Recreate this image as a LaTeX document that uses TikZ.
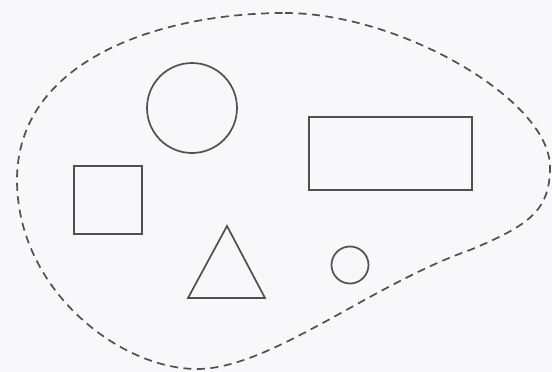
\documentclass[tikz,border=0pt]{standalone}
\usetikzlibrary{calc}
\definecolor{bg}{HTML}{F8F7F9}
\definecolor{ln}{HTML}{505050}
\begin{document}
\begin{tikzpicture}[x=1pt,y=-1pt,
  outl/.style={draw=ln,line width=1.7pt},
  region/.style={draw=ln,line width=1.7pt,dash pattern=on 8pt off 5.5pt}]
\fill[bg] (0,0) rectangle (552,372);
\useasboundingbox (0,0) rectangle (552,372);
% region
\coordinate (top) at (285,13);
\coordinate (rt) at (550,167);
\coordinate (mid) at (470,250);
\coordinate (bot) at (197,369);
\coordinate (lf) at (17,180);
\draw[region] (top) .. controls (400,13) and (550,100) .. (rt)
  .. controls (550,210) and (530,225) .. (mid)
  .. controls (370,285) and (270,369) .. (bot)
  .. controls (120,369) and (17,290) .. (lf)
  .. controls (17,60) and (160,13) .. (top) -- cycle;
% shapes
\draw[outl] (192,108) circle (45);
\draw[outl] (309,117) rectangle (472,190);
\draw[outl] (74,166) rectangle (142,234);
\draw[outl] (227,226) -- (265,298) -- (188,298) -- cycle;
\draw[outl] (350,265) circle (18.5);
\end{tikzpicture}
\end{document}
